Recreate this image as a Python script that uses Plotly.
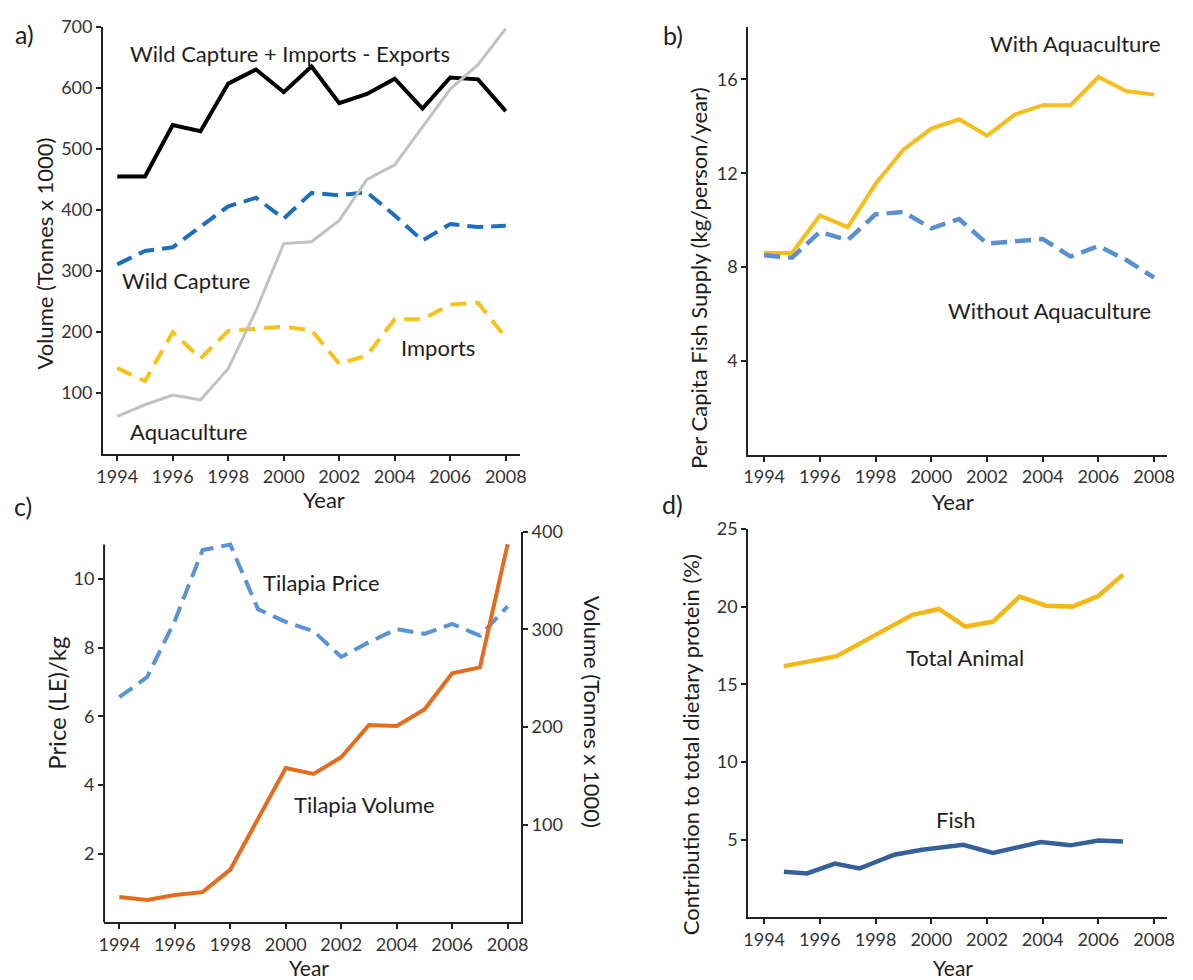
import plotly.graph_objects as go

# ---------------- data ----------------
years = [1994, 1995, 1996, 1997, 1998, 1999, 2000, 2001, 2002, 2003, 2004, 2005, 2006, 2007, 2008]

# panel a (Volume, tonnes x 1000)
wild_imp_exp = [455, 455, 539, 529, 607, 630, 593, 635, 575, 590, 615, 566, 617, 614, 562]
wild_capture = [311, 333, 339, 372, 406, 420, 386, 428, 424, 429, 391, 350, 377, 372, 374]
imports = [141, 120, 200, 157, 202, 205, 209, 203, 148, 162, 221, 221, 245, 248, 191]
aquaculture = [62, 81, 97, 89, 140, 235, 345, 348, 383, 450, 474, 536, 598, 638, 697]

# panel b (per capita supply, kg/person/year)
with_aqua = [8.6, 8.6, 10.2, 9.7, 11.55, 13.0, 13.9, 14.3, 13.6, 14.5, 14.9, 14.9, 16.1, 15.5, 15.35]
without_aqua = [8.5, 8.4, 9.5, 9.15, 10.25, 10.35, 9.65, 10.05, 9.0, 9.1, 9.2, 8.45, 8.9, 8.3, 7.55]

# panel c
tilapia_price = [6.56, 7.14, 8.78, 10.84, 11.0, 9.12, 8.75, 8.48, 7.73, 8.16, 8.54, 8.4, 8.69, 8.35, 9.2]
tilapia_volume = [26, 23, 28, 31, 54, 105, 158, 152, 169, 202, 201, 218, 255, 261, 387]

# panel d (share of dietary protein, %)
animal_x = [1994.71, 1996.6, 1999.32, 2000.27, 2001.22, 2002.22, 2003.17, 2004.12, 2005.07, 2005.99, 2006.88]
total_animal = [16.17, 16.81, 19.47, 19.85, 18.72, 19.04, 20.64, 20.06, 20.0, 20.68, 22.06]
fish_x = [1994.71, 1995.54, 1996.54, 1997.42, 1998.67, 1999.67, 2001.15, 2002.21, 2003.93, 2004.99, 2006.0, 2006.88]
fish = [2.94, 2.83, 3.47, 3.15, 4.04, 4.36, 4.68, 4.15, 4.85, 4.64, 4.95, 4.88]

year_ticks = [1994, 1996, 1998, 2000, 2002, 2004, 2006, 2008]
a_ticks = [100, 200, 300, 400, 500, 600, 700]
b_ticks = [4, 8, 12, 16]
c_left_ticks = [2, 4, 6, 8, 10]
c_right_ticks = [100, 200, 300, 400]
d_ticks = [5, 10, 15, 20, 25]

# ---------------- figure ----------------
W, H = 1193, 980
FONT = "Lato"
TXT = "#1e1e1e"


def px(x):
    return x / W


def py(y):
    return 1 - y / H


fig = go.Figure()

# panel a
fig.add_trace(go.Scatter(x=years, y=wild_imp_exp, mode="lines", line=dict(color="#000000", width=4),
                         xaxis="x", yaxis="y"))
fig.add_trace(go.Scatter(x=years, y=wild_capture, mode="lines",
                         line=dict(color="#1f6dbb", width=4, dash="16px,8px"), xaxis="x", yaxis="y"))
fig.add_trace(go.Scatter(x=years, y=imports, mode="lines",
                         line=dict(color="#f7c21a", width=4, dash="16px,9px"), xaxis="x", yaxis="y"))
fig.add_trace(go.Scatter(x=years, y=aquaculture, mode="lines", line=dict(color="#c2c2c2", width=3),
                         xaxis="x", yaxis="y"))

# panel b
fig.add_trace(go.Scatter(x=years, y=with_aqua, mode="lines", line=dict(color="#f5be1d", width=4),
                         xaxis="x2", yaxis="y2"))
fig.add_trace(go.Scatter(x=years, y=without_aqua, mode="lines",
                         line=dict(color="#5a8fd0", width=4.5, dash="16px,8px"), xaxis="x2", yaxis="y2"))

# panel c
fig.add_trace(go.Scatter(x=years, y=tilapia_price, mode="lines",
                         line=dict(color="#5b93d6", width=4, dash="16px,8px"), xaxis="x3", yaxis="y3"))
fig.add_trace(go.Scatter(x=years, y=tilapia_volume, mode="lines", line=dict(color="#e36c1d", width=4),
                         xaxis="x3", yaxis="y5"))

# panel d
fig.add_trace(go.Scatter(x=animal_x, y=total_animal, mode="lines", line=dict(color="#f3b817", width=4.5),
                         xaxis="x4", yaxis="y4"))
fig.add_trace(go.Scatter(x=fish_x, y=fish, mode="lines", line=dict(color="#35619b", width=4.5),
                         xaxis="x4", yaxis="y4"))

axis_common = dict(showgrid=False, zeroline=False, showline=True, linecolor="#222", linewidth=2,
                   ticks="outside", ticklen=5, tickwidth=2, tickcolor="#222",
                   tickfont=dict(family=FONT, size=18, color="#333"))

xa = dict(axis_common, tickvals=year_ticks)

fig.update_layout(
    width=W, height=H, autosize=False,
    margin=dict(l=0, r=0, t=0, b=0),
    paper_bgcolor="white", plot_bgcolor="white",
    showlegend=False,
    font=dict(family=FONT, color=TXT),
    xaxis=dict(xa, domain=[px(97.3), px(520)], range=[1993.49, 2008.53], anchor="y"),
    yaxis=dict(axis_common, domain=[py(447.7), py(15)], range=[0, 700], tickvals=a_ticks, anchor="x"),
    xaxis2=dict(xa, domain=[px(750.7), px(1175)], range=[1993.43, 2008.47], anchor="y2"),
    yaxis2=dict(axis_common, domain=[py(448.3), py(15)], range=[0, 18.24], tickvals=b_ticks, anchor="x2"),
    xaxis3=dict(xa, domain=[px(98.3), px(520.5)], range=[1993.45, 2008.48], anchor="y3"),
    yaxis3=dict(axis_common, domain=[py(921.7), py(526)], range=[0, 11.38], tickvals=c_left_ticks,
                anchor="x3", showline=False),
    yaxis5=dict(axis_common, domain=[py(921.7), py(526)], range=[0, 400], tickvals=c_right_ticks,
                anchor="x3", overlaying="y3", side="right"),
    xaxis4=dict(xa, domain=[px(750.7), px(1175)], range=[1993.43, 2008.47], anchor="y4"),
    yaxis4=dict(axis_common, domain=[py(916.7), py(523.3)], range=[0, 25], tickvals=d_ticks, anchor="x4"),
)

# left axis line of panel c (shorter than the right one)
fig.add_shape(type="line", xref="x3 domain", yref="y3", x0=0, x1=0, y0=0, y1=11.0,
              line=dict(color="#222", width=2))


def label(text, x, y, size=22, angle=0):
    fig.add_annotation(text=text, x=px(x), y=py(y), xref="paper", yref="paper", showarrow=False,
                       xanchor="center", yanchor="middle", textangle=angle,
                       font=dict(family=FONT, size=size, color=TXT))


# panel letters
label("a)", 18, 22, size=25)
label("b)", 674, 23, size=25)
label("c)", 16, 500, size=25)
label("d)", 674, 498, size=25)

# series labels
label("Wild Capture + Imports - Exports", 287, 42)
label("Wild Capture", 181, 272)
label("Imports", 436, 340)
label("Aquaculture", 184, 425)
label("With Aquaculture", 1082, 32)
label("Without Aquaculture", 1056, 302)
label("Tilapia Price", 319, 578)
label("Tilapia Volume", 362, 802)
label("Total Animal", 970, 653)
label("Fish", 961, 818)

# axis titles
label("Volume (Tonnes x 1000)", 37, 245, angle=-90)
label("Per Capita Fish Supply (kg/person/year)", 701, 270, angle=-90)
label("Price (LE)/kg", 50, 700, size=24, angle=-90)
label("Volume (Tonnes x 1000)", 593, 708, angle=90)
label("Contribution to total dietary protein (%)", 693, 742, angle=-90)
label("Year", 321, 494)
label("Year", 958, 496)
label("Year", 306, 967, size=21)
label("Year", 958, 967, size=21)

fig.write_html("out.html", config={"displayModeBar": False},
               post_script="document.body.style.margin='0px';document.body.style.overflow='hidden';")
